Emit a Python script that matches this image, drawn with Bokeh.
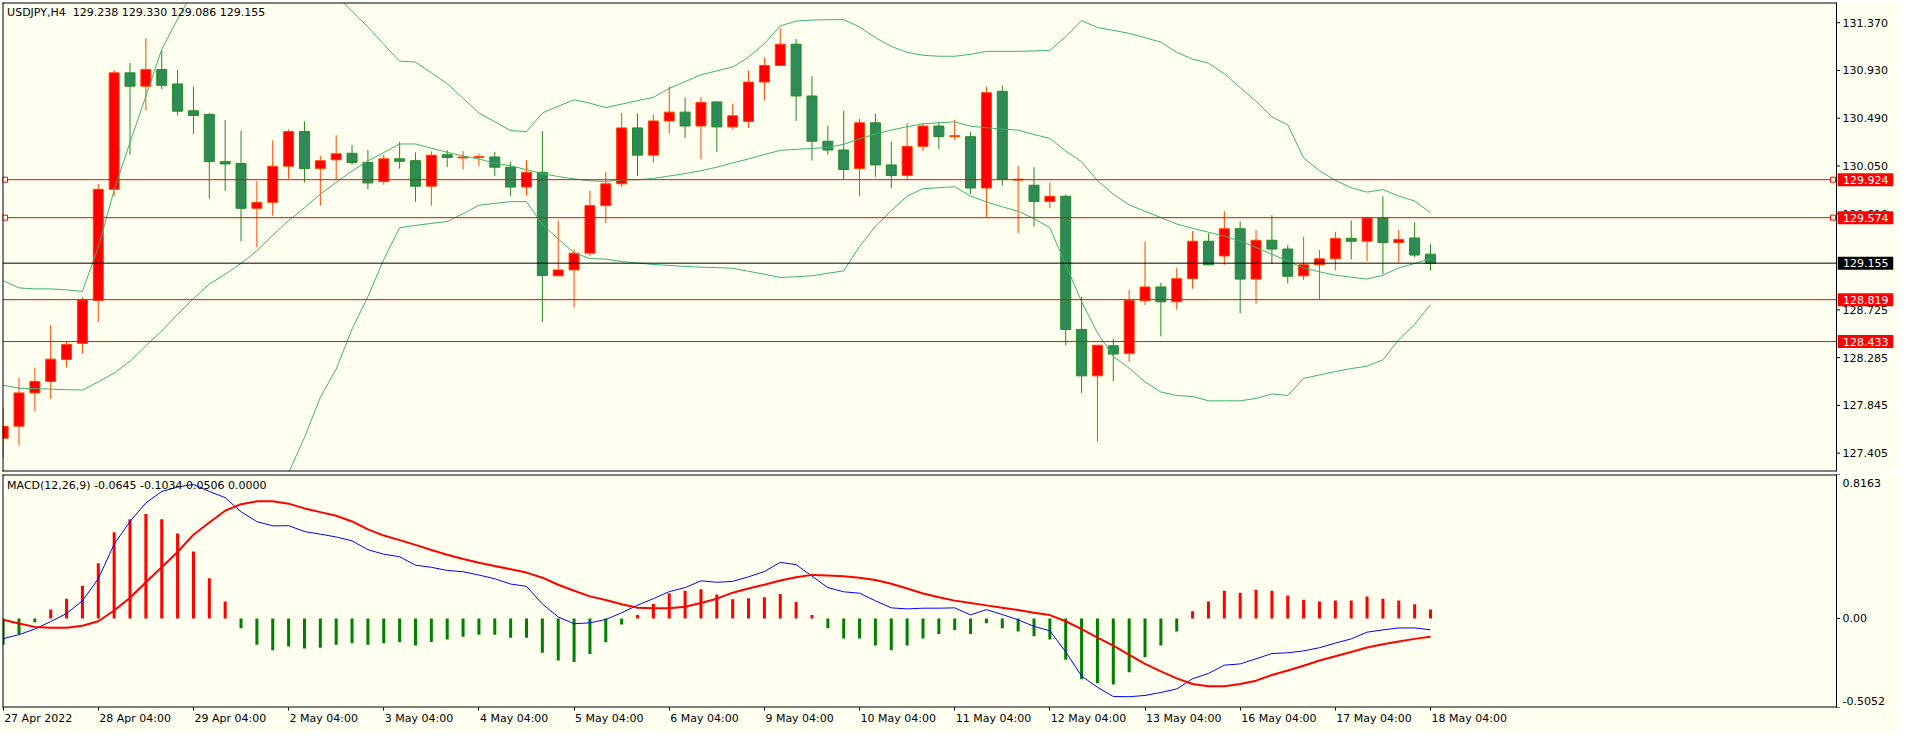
import numpy as np
from bokeh.plotting import figure
from bokeh.layouts import column
from bokeh.models import (Range1d, FixedTicker, Span, Label, ColumnDataSource,
                          PrintfTickFormatter, LinearAxis)
from bokeh.core.properties import value
from bokeh.embed import file_html
from bokeh.resources import INLINE

# ---------------- data ----------------
symbol = "USDJPY,H4"
header_values = "129.238 129.330 129.086 129.155"
macd_header = "MACD(12,26,9) -0.0645 -0.1034 0.0506 0.0000"

opens = [127.542, 127.653, 127.960, 128.066, 128.267, 128.416, 128.812, 129.835, 130.908, 130.785,
         130.938, 130.806, 130.559, 130.525, 130.090, 130.073, 129.660, 129.715, 130.048, 130.367,
         130.026, 130.107, 130.167, 130.082, 129.907, 130.116, 130.099, 129.864, 130.154, 130.124,
         130.129, 130.133, 130.039, 129.856, 129.992, 129.038, 129.093, 129.247, 129.685, 129.886,
         130.401, 130.150, 130.465, 130.546, 130.418, 130.640, 130.410, 130.461, 130.823, 130.976,
         131.172, 130.695, 130.278, 130.197, 130.026, 130.448, 130.060, 129.962, 130.231, 130.418,
         130.320, 130.320, 129.847, 130.738, 129.920, 129.873, 129.724, 129.771, 128.544, 128.117,
         128.394, 128.322, 128.808, 128.936, 128.799, 129.012, 129.357, 129.221, 129.472, 129.008,
         129.366, 129.285, 129.038, 129.140, 129.195, 129.383, 129.357, 129.570, 129.345, 129.387,
         129.238]
highs = [127.823, 128.100, 128.194, 128.586, 128.429, 128.842, 129.886, 130.934, 130.998, 131.228,
         131.113, 130.934, 130.780, 130.538, 130.474, 130.376, 129.911, 130.286, 130.388, 130.461,
         130.146, 130.333, 130.244, 130.197, 130.154, 130.273, 130.175, 130.184, 130.197, 130.188,
         130.163, 130.180, 130.090, 130.103, 130.371, 129.545, 129.281, 129.822, 129.996, 130.538,
         130.533, 130.525, 130.785, 130.682, 130.687, 130.648, 130.623, 130.930, 131.049, 131.317,
         131.219, 130.878, 130.423, 130.559, 130.486, 130.533, 130.273, 130.444, 130.444, 130.452,
         130.474, 130.367, 130.780, 130.789, 130.052, 130.039, 129.898, 129.788, 128.842, 128.399,
         128.458, 128.910, 129.353, 128.974, 129.110, 129.451, 129.430, 129.634, 129.541, 129.460,
         129.596, 129.323, 129.396, 129.276, 129.443, 129.549, 129.583, 129.771, 129.460, 129.532,
         129.330]
lows = [127.363, 127.478, 127.789, 127.904, 128.194, 128.322, 128.612, 129.771, 130.154, 130.559,
        130.759, 130.516, 130.346, 129.749, 129.822, 129.357, 129.302, 129.592, 129.933, 129.898,
        129.685, 129.920, 130.060, 129.835, 129.877, 130.026, 129.720, 129.685, 130.039, 130.018,
        130.048, 129.958, 129.771, 129.779, 128.612, 129.038, 128.748, 129.217, 129.524, 129.856,
        129.958, 130.082, 130.350, 130.308, 130.112, 130.180, 130.388, 130.401, 130.653, 130.976,
        130.465, 130.099, 130.154, 129.924, 129.771, 129.950, 129.847, 129.920, 130.188, 130.205,
        130.290, 129.792, 129.575, 129.869, 129.430, 129.489, 129.660, 128.399, 127.960, 127.512,
        128.066, 128.245, 128.769, 128.480, 128.727, 128.919, 129.140, 129.140, 128.693, 128.782,
        129.149, 128.970, 128.999, 128.825, 129.089, 129.187, 129.174, 129.055, 129.161, 129.208,
        129.086]
closes = [127.653, 127.960, 128.066, 128.271, 128.407, 128.816, 129.835, 130.908, 130.785, 130.938,
          130.793, 130.555, 130.516, 130.090, 130.069, 129.660, 129.715, 130.048, 130.367, 130.026,
          130.099, 130.163, 130.082, 129.894, 130.116, 130.094, 129.864, 130.150, 130.129, 130.133,
          130.137, 130.039, 129.856, 129.992, 129.042, 129.093, 129.247, 129.685, 129.886, 130.401,
          130.150, 130.465, 130.546, 130.418, 130.636, 130.410, 130.512, 130.823, 130.976, 131.172,
          130.695, 130.278, 130.197, 130.018, 130.448, 130.060, 129.962, 130.231, 130.418, 130.320,
          130.329, 129.847, 130.725, 129.928, 129.928, 129.724, 129.771, 128.544, 128.117, 128.399,
          128.318, 128.812, 128.936, 128.799, 129.012, 129.357, 129.140, 129.472, 129.008, 129.366,
          129.285, 129.034, 129.140, 129.195, 129.383, 129.357, 129.570, 129.345, 129.374, 129.230,
          129.155]

bb_upper = [128.994, 128.927, 128.918, 128.918, 128.909, 128.895, 129.305, 129.827, 130.268, 130.692,
            131.124, 131.403, 131.664, 131.799, 131.844, 131.853, 131.880, 131.862, 131.871, 131.781,
            131.664, 131.619, 131.475, 131.331, 131.169, 131.016, 131.007, 130.908, 130.809, 130.674,
            130.538, 130.457, 130.376, 130.367, 130.538, 130.601, 130.660, 130.628, 130.588, 130.620,
            130.652, 130.682, 130.764, 130.827, 130.890, 130.926, 130.962, 131.052, 131.178, 131.340,
            131.385, 131.394, 131.398, 131.398, 131.331, 131.232, 131.151, 131.097, 131.070, 131.061,
            131.061, 131.079, 131.106, 131.106, 131.106, 131.110, 131.115, 131.241, 131.389, 131.326,
            131.299, 131.272, 131.232, 131.191, 131.097, 131.034, 130.998, 130.899, 130.773, 130.647,
            130.502, 130.430, 130.124, 130.007, 129.917, 129.850, 129.809, 129.833, 129.773, 129.728,
            129.620]
bb_mid = [128.031, 128.004, 127.999, 127.995, 127.990, 127.986, 128.062, 128.143, 128.251, 128.395,
          128.530, 128.683, 128.828, 128.963, 129.053, 129.152, 129.269, 129.413, 129.548, 129.665,
          129.791, 129.899, 130.003, 130.097, 130.174, 130.253, 130.253, 130.214, 130.176, 130.142,
          130.115, 130.075, 130.052, 130.016, 129.980, 129.953, 129.931, 129.913, 129.908, 129.922,
          129.923, 129.935, 129.958, 129.980, 130.007, 130.039, 130.079, 130.115, 130.156, 130.194,
          130.203, 130.212, 130.221, 130.250, 130.300, 130.345, 130.381, 130.412, 130.439, 130.448,
          130.457, 130.417, 130.403, 130.390, 130.381, 130.340, 130.304, 130.187, 130.088, 129.917,
          129.791, 129.692, 129.633, 129.575, 129.516, 129.476, 129.440, 129.404, 129.359, 129.300,
          129.237, 129.174, 129.111, 129.075, 129.044, 129.026, 129.008, 129.044, 129.111, 129.152,
          129.197]
bb_lower = [127.067, 127.081, 127.081, 127.072, 127.072, 127.076, 126.819, 126.459, 126.234, 126.099,
            125.937, 125.964, 125.991, 126.126, 126.261, 126.450, 126.657, 126.963, 127.225, 127.549,
            127.918, 128.179, 128.548, 128.846, 129.188, 129.481, 129.503, 129.521, 129.539, 129.611,
            129.688, 129.706, 129.722, 129.722, 129.512, 129.377, 129.251, 129.197, 129.192, 129.170,
            129.156, 129.143, 129.134, 129.125, 129.118, 129.114, 129.108, 129.080, 129.053, 129.023,
            129.030, 129.039, 129.062, 129.084, 129.309, 129.494, 129.638, 129.773, 129.841, 129.850,
            129.859, 129.773, 129.719, 129.674, 129.633, 129.566, 129.481, 129.143, 128.801, 128.512,
            128.296, 128.188, 128.062, 127.968, 127.936, 127.927, 127.887, 127.887, 127.887, 127.909,
            127.950, 127.936, 128.094, 128.125, 128.157, 128.184, 128.206, 128.265, 128.449, 128.593,
            128.773]

macd_main = [-0.115, -0.092, -0.060, -0.018, 0.028, 0.100, 0.225, 0.421, 0.550, 0.655,
             0.720, 0.745, 0.760, 0.720, 0.685, 0.605, 0.549, 0.525, 0.526, 0.493,
             0.478, 0.462, 0.440, 0.390, 0.364, 0.350, 0.302, 0.290, 0.272, 0.265,
             0.246, 0.225, 0.195, 0.182, 0.082, 0.008, -0.030, -0.025, -0.006, 0.032,
             0.075, 0.112, 0.152, 0.175, 0.213, 0.205, 0.210, 0.236, 0.266, 0.318,
             0.305, 0.240, 0.175, 0.151, 0.143, 0.100, 0.060, 0.054, 0.058, 0.058,
             0.060, 0.020, 0.050, 0.022, -0.008, -0.045, -0.070, -0.190, -0.327, -0.390,
             -0.443, -0.444, -0.437, -0.420, -0.400, -0.342, -0.312, -0.265, -0.258, -0.229,
             -0.199, -0.195, -0.184, -0.166, -0.140, -0.116, -0.078, -0.065, -0.054, -0.054,
             -0.0645]
macd_signal = [-0.008, -0.029, -0.048, -0.053, -0.053, -0.042, -0.016, 0.045, 0.117, 0.205,
               0.290, 0.377, 0.475, 0.544, 0.611, 0.648, 0.664, 0.664, 0.651, 0.624,
               0.603, 0.582, 0.550, 0.505, 0.470, 0.444, 0.417, 0.388, 0.361, 0.337,
               0.316, 0.297, 0.279, 0.260, 0.231, 0.191, 0.157, 0.125, 0.104, 0.080,
               0.061, 0.058, 0.058, 0.066, 0.088, 0.112, 0.146, 0.170, 0.191, 0.215,
               0.234, 0.247, 0.244, 0.239, 0.231, 0.218, 0.197, 0.170, 0.141, 0.120,
               0.101, 0.088, 0.074, 0.061, 0.048, 0.032, 0.019, -0.016, -0.061, -0.109,
               -0.154, -0.207, -0.258, -0.300, -0.340, -0.372, -0.385, -0.385, -0.372, -0.353,
               -0.321, -0.295, -0.268, -0.239, -0.215, -0.190, -0.165, -0.146, -0.131, -0.116,
               -0.1034]
macd_hist = [-0.149, -0.088, -0.021, 0.050, 0.112, 0.186, 0.313, 0.489, 0.563, 0.592,
             0.563, 0.481, 0.380, 0.228, 0.096, -0.056, -0.149, -0.181, -0.159, -0.170,
             -0.167, -0.149, -0.141, -0.149, -0.141, -0.133, -0.154, -0.133, -0.120, -0.104,
             -0.093, -0.093, -0.109, -0.109, -0.194, -0.239, -0.247, -0.202, -0.135, -0.035,
             0.019, 0.082, 0.143, 0.157, 0.165, 0.135, 0.109, 0.114, 0.120, 0.138,
             0.093, 0.019, -0.056, -0.114, -0.114, -0.154, -0.181, -0.154, -0.114, -0.088,
             -0.066, -0.088, -0.027, -0.056, -0.074, -0.101, -0.120, -0.234, -0.345, -0.367,
             -0.375, -0.305, -0.220, -0.154, -0.074, 0.040, 0.096, 0.157, 0.146, 0.162,
             0.157, 0.130, 0.106, 0.096, 0.101, 0.101, 0.125, 0.112, 0.101, 0.080,
             0.0506]

time_tick_bars = [0, 6, 12, 18, 24, 30, 36, 42, 48, 54, 60, 66, 72, 78, 84, 90]
time_tick_labels = ["27 Apr 2022", "28 Apr 04:00", "29 Apr 04:00", "2 May 04:00", "3 May 04:00",
                    "4 May 04:00", "5 May 04:00", "6 May 04:00", "9 May 04:00", "10 May 04:00",
                    "11 May 04:00", "12 May 04:00", "13 May 04:00", "16 May 04:00", "17 May 04:00",
                    "18 May 04:00"]
price_ticks = [131.370, 130.930, 130.490, 130.050, 129.610, 128.725, 128.285, 127.845, 127.405]
level_lines = [129.924, 129.574, 128.819, 128.433]
selected_levels = [129.924, 129.574]
bid_price = 129.155
macd_top, macd_bottom = 0.8163, -0.5052

# ---------------- styling / geometry ----------------
BG = "#FFFFF0"
FONT = "DejaVu Sans"
FS = "11px"
UP_FILL, UP_LINE = "#FF0000", "#FF4500"
DN_FILL, DN_LINE = "#2E8B57", "#228B22"
BB_COLOR = "#3CB371"
TOTAL_W = 1900
FRAME_W = TOTAL_W - 4          # plotting frame incl. the price-scale strip
PANE_W = 1834                  # chart pane (left of the price scale)
MAIN_H = 469
MACD_H = 233

n = len(closes)
idx = np.arange(n)
o = np.array(opens); c = np.array(closes); h = np.array(highs); l = np.array(lows)
up = c >= o

x_start, pane_end = -0.04, 115.6
ppb = PANE_W / (pane_end - x_start)              # pixels per bar
x_range = Range1d(x_start, x_start + FRAME_W / ppb)
price_range = Range1d(127.236, 131.556)
macd_range = Range1d(macd_bottom, macd_top)

EM = {"0": .636, "1": .636, "2": .636, "3": .636, "4": .636, "5": .636, "6": .636, "7": .636,
      "8": .636, "9": .636, " ": .318, ":": .337, "A": .684, "M": .863, "p": .635, "r": .411,
      "a": .613, "y": .592}
def text_px(s):
    return sum(EM.get(ch, .6) for ch in s) * 11.0

def base_fig(height, yr, bottom_border):
    p = figure(frame_width=FRAME_W, frame_height=height, x_range=x_range, y_range=yr,
               x_axis_location=None, y_axis_location="right", toolbar_location=None,
               output_backend="svg", min_border_left=2, min_border_right=2, min_border_top=2,
               min_border_bottom=bottom_border, background_fill_color=BG, border_fill_color=BG,
               outline_line_color=None)
    p.grid.visible = False
    ax = p.yaxis[0]
    ax.axis_line_color = None
    ax.major_tick_line_color = None
    ax.minor_tick_line_color = None
    ax.major_tick_out = 0
    ax.major_tick_in = 0
    ax.major_label_text_font = FONT
    ax.major_label_text_font_size = FS
    ax.major_label_text_color = "black"
    # scale labels sit in the strip right of the pane border
    ax.major_label_standoff = -int(round(FRAME_W - PANE_W - 6.5))
    # pane border (left, right, top, bottom)
    hx = 0.5 / ppb
    hy = 0.5 * (yr.end - yr.start) / height
    p.segment(x0=[x_start + hx, pane_end, x_start, x_start],
              y0=[yr.start, yr.start, yr.end - hy, yr.start + hy],
              x1=[x_start + hx, pane_end, pane_end, pane_end],
              y1=[yr.end, yr.end, yr.end - hy, yr.start + hy],
              line_color="black", line_width=1, level="overlay")
    return p

def scale_ticks(p, ticks):
    p.segment(x0=[pane_end] * len(ticks), x1=[pane_end + 3.5 / ppb] * len(ticks),
              y0=ticks, y1=ticks, line_color="black", line_width=1)

# ---------------- price pane ----------------
p1 = base_fig(MAIN_H, price_range, 1)
p1.yaxis.ticker = FixedTicker(ticks=price_ticks)
p1.yaxis.formatter = PrintfTickFormatter(format="%.3f")
scale_ticks(p1, price_ticks)

for mask, fill, line in ((up, UP_FILL, UP_LINE), (~up, DN_FILL, DN_LINE)):
    src = ColumnDataSource(dict(x=idx[mask], high=h[mask], low=l[mask],
                                top=np.maximum(o, c)[mask], bottom=np.minimum(o, c)[mask]))
    p1.segment(x0="x", y0="high", x1="x", y1="low", source=src, line_color=line, line_width=1)
    p1.vbar(x="x", width=0.63, top="top", bottom="bottom", source=src,
            fill_color=fill, line_color=line, line_width=1)

for band in (bb_upper, bb_mid, bb_lower):
    p1.line(idx, band, line_color=BB_COLOR, line_width=1)

# horizontal levels, stopping at the pane border
p1.segment(x0=[x_start] * len(level_lines), x1=[pane_end] * len(level_lines),
           y0=level_lines, y1=level_lines, line_color="#FF0000", line_width=1)
p1.segment(x0=[x_start], x1=[pane_end], y0=[bid_price], y1=[bid_price],
           line_color="black", line_width=1)

xs_sel, ys_sel = [], []
for lv in selected_levels:
    xs_sel += [x_start + 0.16, pane_end - 0.22]
    ys_sel += [lv, lv]
p1.scatter(xs_sel, ys_sel, marker="square", size=5, fill_color=BG, line_color="#FF0000", line_width=1)

# price tags on the scale
tag_prices = level_lines + [bid_price]
tag_colors = ["#FF0000"] * len(level_lines) + ["black"]
tsrc = ColumnDataSource(dict(y=tag_prices, color=tag_colors,
                             text=[f"{v:.3f}" for v in tag_prices]))
p1.rect(x=pane_end + 29.0 / ppb, y="y", width=55.5 / ppb, height=13, height_units="screen",
        source=tsrc, fill_color="color", line_color=None, level="overlay")
p1.text(x=pane_end + 6.5 / ppb, y="y", text="text", source=tsrc, text_color="white",
        text_font=value(FONT), text_font_size=value(FS), text_baseline="middle",
        text_align="left", level="overlay")

p1.add_layout(Label(x=0.25, y=131.460, text=f"{symbol}\u00a0 {header_values}", text_font=FONT,
                    text_font_size=FS, text_color="black", text_baseline="middle"))

# ---------------- MACD pane ----------------
p2 = base_fig(MACD_H, macd_range, 24)
span = macd_top - macd_bottom
top_lbl = macd_top - 0.036 * span
bot_lbl = macd_bottom + 0.029 * span
p2.yaxis.ticker = FixedTicker(ticks=[top_lbl, 0.0, bot_lbl])
p2.yaxis.major_label_overrides = {top_lbl: f"{macd_top:.4f}", 0.0: "0.00", bot_lbl: f"{macd_bottom:.4f}"}
scale_ticks(p2, [macd_top, 0.0, macd_bottom])

# axis 1: tick marks at the bars (no label text drawn)
xt = LinearAxis(ticker=FixedTicker(ticks=time_tick_bars))
xt.axis_line_color = None
xt.major_tick_line_color = "black"
xt.major_tick_out = 3
xt.major_tick_in = 0
xt.minor_tick_line_color = None
xt.major_label_text_font_size = "1px"
xt.major_label_text_color = None
xt.major_label_standoff = 0
p2.add_layout(xt, "below")
# axis 2: the date labels, left-aligned at their bars
label_pos = [b + (text_px(t) / 2 + 1) / ppb for b, t in zip(time_tick_bars, time_tick_labels)]
xlab = LinearAxis(ticker=FixedTicker(ticks=label_pos),
                  major_label_overrides=dict(zip(label_pos, time_tick_labels)))
xlab.axis_line_color = None
xlab.major_tick_line_color = None
xlab.minor_tick_line_color = None
xlab.major_tick_out = 0
xlab.major_tick_in = 0
xlab.major_label_standoff = 1
xlab.major_label_text_font = FONT
xlab.major_label_text_font_size = FS
xlab.major_label_text_color = "black"
p2.add_layout(xlab, "below")

hist = np.array(macd_hist)
hsrc = ColumnDataSource(dict(x=idx, top=hist,
                             color=["#FF0000" if v >= 0 else "#008000" for v in hist]))
p2.vbar(x="x", width=0.19, top="top", bottom=0, source=hsrc, fill_color="color", line_color=None)
p2.line(idx, macd_main, line_color="#0000FF", line_width=1)
p2.line(idx, macd_signal, line_color="#FF0000", line_width=2)
p2.add_layout(Label(x=0.25, y=macd_top - 0.0455 * span, text=macd_header, text_font=FONT,
                    text_font_size=FS, text_color="black", text_baseline="middle"))

layout = column(p1, p2, spacing=0)
open("out.html", "w").write(file_html(layout, INLINE))
